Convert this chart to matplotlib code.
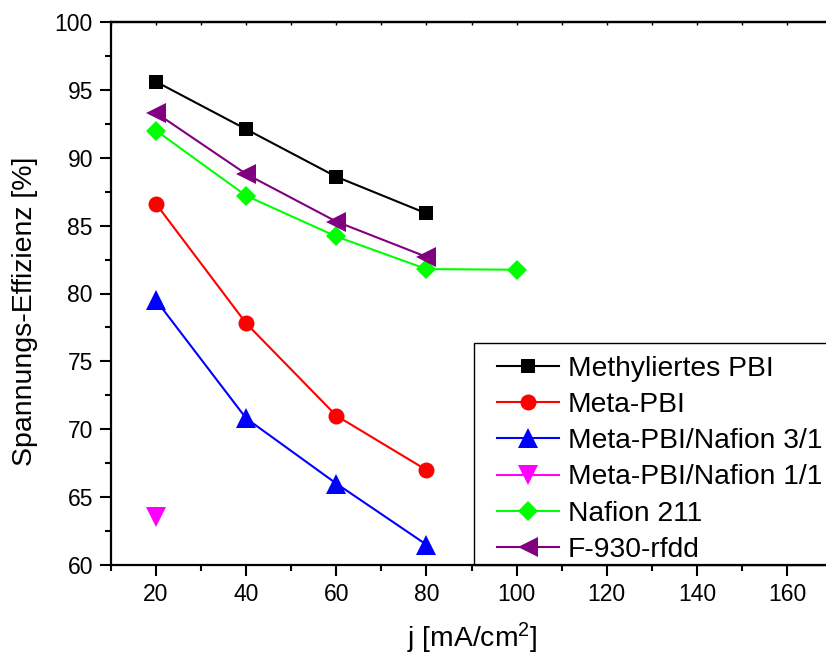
import matplotlib
matplotlib.use("Agg")
import matplotlib.pyplot as plt
from matplotlib.patches import Rectangle
from matplotlib.ticker import MultipleLocator

plt.rcParams['font.family'] = ['Liberation Sans', 'DejaVu Sans']
plt.rcParams['mathtext.fontset'] = 'custom'
plt.rcParams['mathtext.rm'] = 'Liberation Sans'
plt.rcParams['mathtext.it'] = 'Liberation Sans'
plt.rcParams['mathtext.default'] = 'regular'

# current density j [mA/cm^2]
j_methyl = [20, 40, 60, 80]
j_meta = [20, 40, 60, 80]
j_meta31 = [20, 40, 60, 80]
j_meta11 = [20]
j_nafion = [20, 40, 60, 80, 100]
j_f930 = [20, 40, 60, 80]

# voltage efficiency [%]
ve_methyl = [95.6, 92.1, 88.6, 85.9]
ve_meta = [86.6, 77.8, 71.0, 67.0]
ve_meta31 = [79.5, 70.8, 66.0, 61.5]
ve_meta11 = [63.5]
ve_nafion = [92.0, 87.2, 84.2, 81.8, 81.75]
ve_f930 = [93.3, 88.8, 85.3, 82.7]

labels = ["Methyliertes PBI", "Meta-PBI", "Meta-PBI/Nafion 3/1",
          "Meta-PBI/Nafion 1/1", "Nafion 211", "F-930-rfdd"]

W, H = 826, 655
fig = plt.figure(figsize=(W / 100, H / 100), dpi=100)
ax_l, ax_r, ax_t, ax_b = 111, 832, 22, 565
ax = fig.add_axes([ax_l / W, 1 - ax_b / H, (ax_r - ax_l) / W, (ax_b - ax_t) / H])

series = [
    (j_methyl, ve_methyl, "black", "s", 10),
    (j_meta, ve_meta, "#FF0000", "o", 11.5),
    (j_meta31, ve_meta31, "#0000FF", "^", 14.5),
    (j_meta11, ve_meta11, "#FF00FF", "v", 14.5),
    (j_nafion, ve_nafion, "#00FF00", "D", 10.5),
    (j_f930, ve_f930, "#800080", "<", 14.5),
]
handles = []
for (x, y, c, m, ms), lab in zip(series, labels):
    h, = ax.plot(x, y, color=c, marker=m, markersize=ms, linewidth=1.5,
                 markeredgewidth=0, label=lab)
    handles.append(h)

ax.set_xlim(10, 170)
ax.set_ylim(60, 100)
ax.xaxis.set_major_locator(MultipleLocator(20))
ax.xaxis.set_minor_locator(MultipleLocator(10))
ax.yaxis.set_major_locator(MultipleLocator(5))
ax.yaxis.set_minor_locator(MultipleLocator(2.5))
ax.tick_params(which='major', direction='out', length=8, width=1.5,
               labelsize=16.5, pad=5)
ax.tick_params(which='minor', direction='out', length=4.5, width=1.5)
for s in ax.spines.values():
    s.set_linewidth(1.6)

# small inward ticks along the top edge
top = ax.secondary_xaxis('top')
top.xaxis.set_major_locator(MultipleLocator(10))
top.tick_params(direction='in', length=2, width=1, labeltop=False)
top.spines['top'].set_linewidth(1.6)

ax.set_xlabel("j [mA/cm$^2$]", fontsize=20.3)
ax.xaxis.set_label_coords((472.5 - ax_l) / (ax_r - ax_l), -(647 - ax_b) / (ax_b - ax_t))
ax.xaxis.label.set_verticalalignment('baseline')
ax.set_ylabel("Spannungs-Effizienz [%]", fontsize=20.5)
ax.yaxis.set_label_coords(-(ax_l - 12) / (ax_r - ax_l), (ax_b - 311.5) / (ax_b - ax_t))
ax.yaxis.label.set_verticalalignment('top')

# legend box
x0 = (474 - ax_l) / (ax_r - ax_l)
y0 = (ax_b - 343) / (ax_b - ax_t)
ax.add_patch(Rectangle((x0, 0), 1.2, y0, transform=ax.transAxes, fill=False,
                       edgecolor="black", linewidth=1.0, clip_on=False, zorder=5))
leg = ax.legend(handles=handles, loc='upper left',
                bbox_to_anchor=((497 - ax_l) / (ax_r - ax_l), (ax_b - 356) / (ax_b - ax_t)),
                frameon=False, fontsize=20.3, borderpad=0, borderaxespad=0,
                handlelength=2.2, handletextpad=0.32, labelspacing=0.36)

fig.savefig("out.png", dpi=100)
